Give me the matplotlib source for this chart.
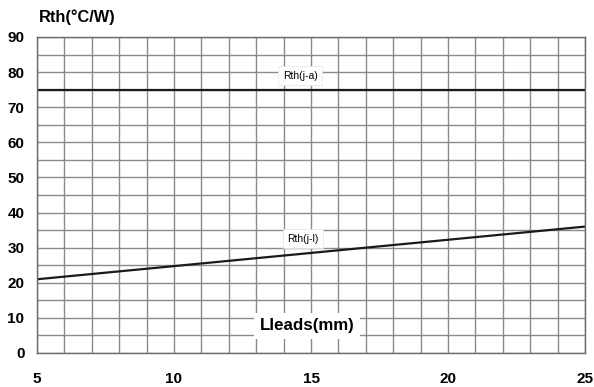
import numpy as np
import matplotlib
matplotlib.use("Agg")
import matplotlib.pyplot as plt

plt.rcParams['font.family'] = ['Liberation Sans', 'DejaVu Sans']

# Data
lead_len = [5, 25]            # mm
rth_ja = [75, 75]             # junction to ambient
rth_jl = [21, 36]             # junction to lead

x_ticks = [5, 10, 15, 20, 25]
y_ticks = [0, 10, 20, 30, 40, 50, 60, 70, 80, 90]

fig = plt.figure(figsize=(5.94, 3.87), dpi=100)
ax = fig.add_axes([37/594, 1-353/387, 548/594, 316/387])

ax.set_xlim(5, 25)
ax.set_ylim(0, 90)

# grid every 1 mm and every 5 degC/W
ax.set_xticks(np.arange(5, 26, 1), minor=True)
ax.set_yticks(np.arange(0, 91, 5), minor=True)
ax.set_xticks(x_ticks)
ax.set_yticks(y_ticks)
ax.grid(which='both', color='#8a8a8a', linewidth=1.0)
ax.set_axisbelow(True)
ax.tick_params(which='both', length=0)
ax.tick_params(axis='x', pad=14, labelsize=11)
ax.tick_params(axis='y', pad=9, labelsize=11)
for lab in ax.get_xticklabels() + ax.get_yticklabels():
    lab.set_fontweight('bold')
for sp in ax.spines.values():
    sp.set_color('#6a6a6a')
    sp.set_linewidth(1.0)

ax.plot(lead_len, rth_ja, color='#1a1a1a', linewidth=1.6)
ax.plot(lead_len, rth_jl, color='#1a1a1a', linewidth=1.6)

box = dict(facecolor='white', edgecolor='#e4e4e4', linewidth=0.5, pad=3)
ax.text(14.6, 79.0, 'Rth(j-a)', fontsize=7.5, ha='center', va='center', bbox=box)
ax.text(14.7, 32.6, 'Rth(j-l)', fontsize=7.5, ha='center', va='center', bbox=box)
ax.text(14.85, 7.7, 'Lleads(mm)', fontsize=12.2, fontweight='bold', ha='center',
        va='center', bbox=dict(facecolor='white', edgecolor='none', pad=4))

fig.text(39/594, 1-17/387, 'Rth(°C/W)', fontsize=11.8, fontweight='bold',
         ha='left', va='center')

fig.savefig('out.png', dpi=100)
